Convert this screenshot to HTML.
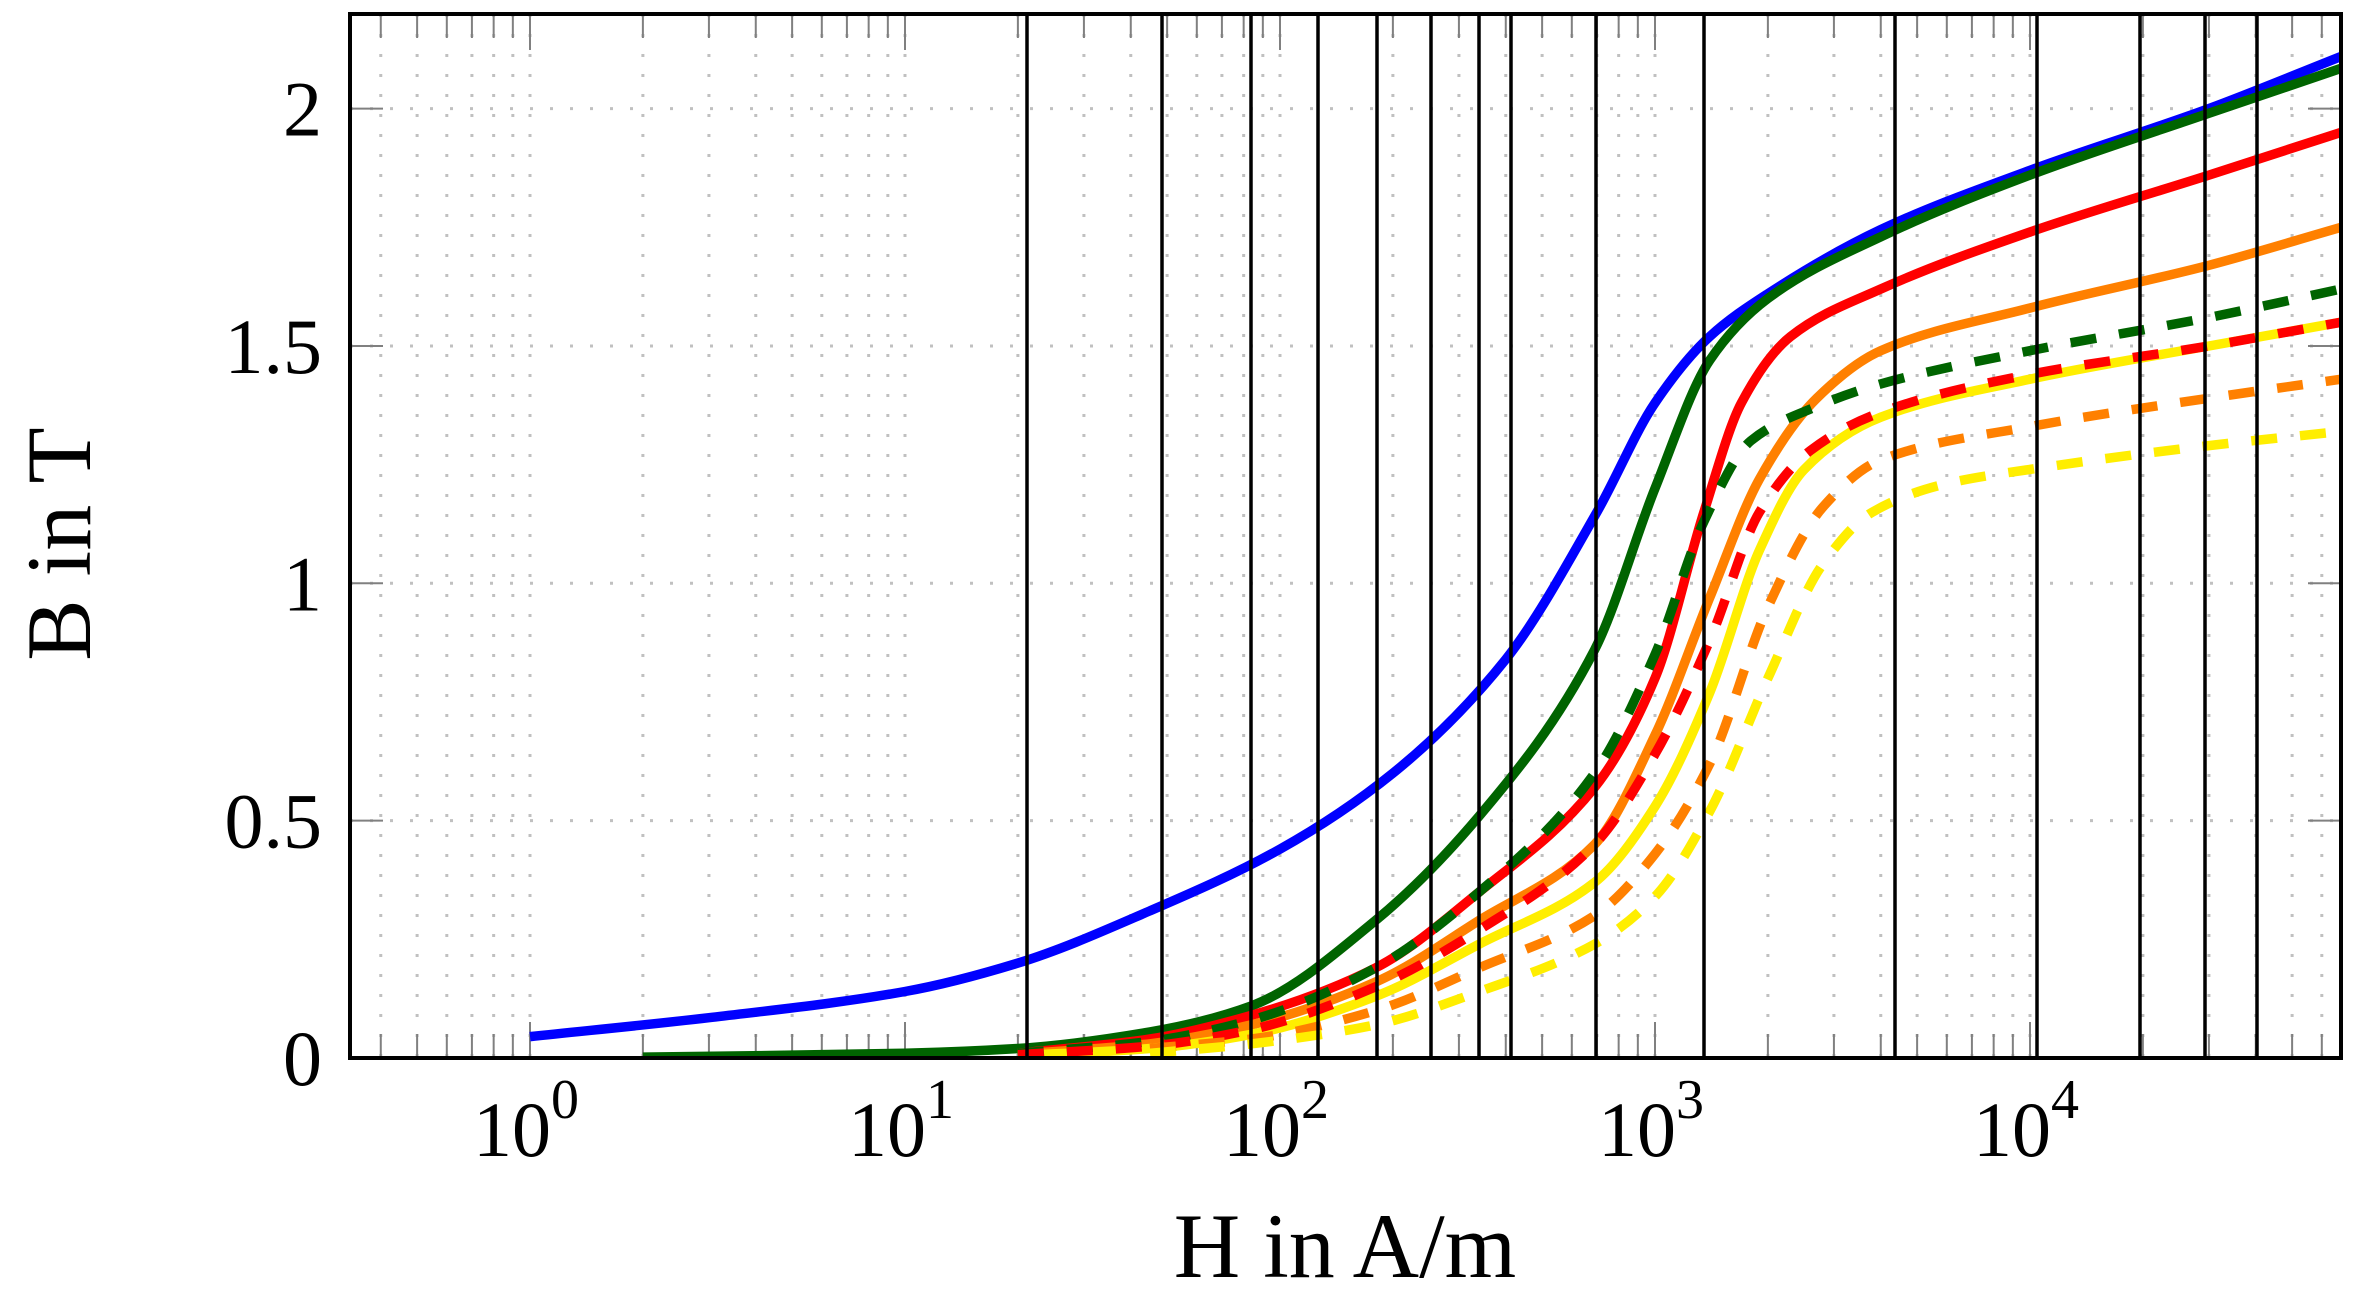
<!DOCTYPE html>
<html><head><meta charset="utf-8"><style>
html,body{margin:0;padding:0;background:#fff;}
svg{display:block;}
text{font-family:"Liberation Serif",serif;fill:#000;}
</style></head><body>
<svg id="s" width="2369" height="1311" viewBox="0 0 2369 1311" xmlns="http://www.w3.org/2000/svg">
<defs><clipPath id="c"><rect x="350" y="14" width="1991" height="1044"/></clipPath></defs>
<g id="grid"></g>
<g id="curves" clip-path="url(#c)"></g>
<g id="vl"></g>
<rect x="350" y="14" width="1991" height="1044" fill="none" stroke="#000" stroke-width="4"/>
<g id="lab" font-size="78"></g>
<text x="1345" y="1277" font-size="92" text-anchor="middle">H in A/m</text>
<text transform="translate(90,544) rotate(-90)" font-size="92" text-anchor="middle">B in T</text>
</svg>
<script>
const NS="http://www.w3.org/2000/svg";
const L=350,R=2341,T=14,B=1058;
const X=h=>530+375*Math.log10(h), Y=b=>1058-474.7*b;
function el(p,t,a,txt){const e=document.createElementNS(NS,t);for(const k in a)e.setAttribute(k,a[k]);if(txt!==undefined)e.textContent=txt;(typeof p=="string"?document.getElementById(p):p).appendChild(e);return e;}
for(let d=-1;d<=4;d++)for(let m=1;m<=9;m++){const x=X(m*Math.pow(10,d));if(x<L+2||x>R-2)continue;
 el("grid","line",{x1:x,y1:T,x2:x,y2:B,stroke:"#c0c0c0","stroke-width":3,"stroke-dasharray":"3 17"});
 const len=m==1?36:24;
 el("grid","line",{x1:x,y1:T,x2:x,y2:T+len,stroke:"#808080","stroke-width":2});
 el("grid","line",{x1:x,y1:B,x2:x,y2:B-len,stroke:"#808080","stroke-width":2});}
for(let b=0.5;b<=2;b+=0.5){const y=Y(b);
 el("grid","line",{x1:L,y1:y,x2:R,y2:y,stroke:"#c0c0c0","stroke-width":3,"stroke-dasharray":"3 17"});
 el("grid","line",{x1:L,y1:y,x2:L+33,y2:y,stroke:"#808080","stroke-width":2});
 el("grid","line",{x1:R,y1:y,x2:R-33,y2:y,stroke:"#808080","stroke-width":2});}
[["0",0],["0.5",0.5],["1",1],["1.5",1.5],["2",2]].forEach(([t,b])=>el("lab","text",{x:322,y:Y(b)+27,"text-anchor":"end"},t));
for(let d=0;d<=4;d++){const x=X(Math.pow(10,d));const t=el("lab","text",{x:x-4,y:1156,"text-anchor":"middle"},"10");
 el(t,"tspan",{dy:-38,"font-size":"56"},String(d));}
[1027,1162,1251,1318,1377,1431,1479,1511,1596,1704,1895,2037,2140,2205,2257].forEach(x=>el("vl","line",{x1:x,y1:T,x2:x,y2:B,stroke:"#000","stroke-width":3.5}));
// monotone cubic in pixel space
function path(pts){const p=pts.map(([h,b])=>[X(h),Y(b)]);const n=p.length;const dl=[],m=[];
 for(let i=0;i<n-1;i++)dl.push((p[i+1][1]-p[i][1])/(p[i+1][0]-p[i][0]));
 m[0]=dl[0];m[n-1]=dl[n-2];
 for(let i=1;i<n-1;i++){if(dl[i-1]*dl[i]<=0)m[i]=0;else{const h0=p[i][0]-p[i-1][0],h1=p[i+1][0]-p[i][0];const w1=2*h1+h0,w2=h1+2*h0;m[i]=(w1+w2)/(w1/dl[i-1]+w2/dl[i]);}}
 let d="M"+p[0][0].toFixed(1)+","+p[0][1].toFixed(1);
 for(let i=0;i<n-1;i++){const h=p[i+1][0]-p[i][0];
  d+=` C${(p[i][0]+h/3).toFixed(1)},${(p[i][1]+m[i]*h/3).toFixed(1)} ${(p[i+1][0]-h/3).toFixed(1)},${(p[i+1][1]-m[i+1]*h/3).toFixed(1)} ${p[i+1][0].toFixed(1)},${p[i+1][1].toFixed(1)}`;}
 return d;}
const S=[
["#0000ff",0,[[1,0.045],[3,0.085],[10,0.14],[20,0.2],[45,0.31],[100,0.44],[200,0.6],[400,0.84],[700,1.15],[1000,1.38],[1400,1.52],[2000,1.61],[4000,1.745],[10000,1.87],[30000,2.0],[67600,2.11]]],
["#006400",0,[[2,0.002],[10,0.01],[20,0.02],[45,0.055],[84,0.11],[180,0.29],[340,0.51],[690,0.86],[1000,1.2],[1400,1.47],[2000,1.6],[4000,1.73],[10000,1.86],[30000,1.99],[67600,2.085]]],
["#ff0000",0,[[20,0.01],[45,0.04],[84,0.09],[180,0.19],[340,0.35],[690,0.57],[1000,0.8],[1350,1.15],[1700,1.38],[2300,1.52],[4000,1.62],[10000,1.74],[30000,1.86],[67600,1.95]]],
["#ff8000",0,[[20,0.008],[45,0.03],[84,0.07],[180,0.16],[340,0.29],[690,0.45],[1000,0.68],[1400,0.97],[1900,1.22],[2700,1.39],[4000,1.49],[10000,1.58],[30000,1.67],[67600,1.75]]],
["#ffee00",0,[[20,0.005],[45,0.02],[84,0.05],[180,0.13],[340,0.24],[690,0.37],[1000,0.53],[1400,0.77],[1900,1.07],[2500,1.24],[4000,1.35],[10000,1.43],[30000,1.5],[67600,1.55]]],
["#006400",1,[[20,0.01],[45,0.035],[84,0.08],[180,0.19],[340,0.35],[690,0.6],[1000,0.85],[1350,1.13],[1800,1.3],[2650,1.37],[4000,1.42],[10000,1.49],[30000,1.56],[67600,1.62]]],
["#ff0000",1,[[20,0.007],[45,0.025],[84,0.06],[180,0.15],[340,0.27],[690,0.45],[1000,0.64],[1400,0.88],[1900,1.15],[2600,1.28],[4000,1.36],[10000,1.44],[30000,1.5],[67600,1.55]]],
["#ff8000",1,[[45,0.02],[84,0.04],[180,0.1],[340,0.19],[690,0.3],[1000,0.43],[1400,0.62],[2000,0.95],[2800,1.16],[4000,1.26],[10000,1.33],[30000,1.39],[67600,1.43]]],
["#ffee00",1,[[45,0.01],[84,0.03],[180,0.07],[340,0.14],[690,0.24],[1000,0.34],[1400,0.52],[2000,0.8],[2800,1.04],[3800,1.15],[6000,1.21],[10000,1.24],[30000,1.29],[67600,1.32]]]
];
S.forEach(([c,d,p])=>{const a={d:path(p),fill:"none",stroke:c,"stroke-width":9.5};if(d)a["stroke-dasharray"]="26 23";el("curves","path",a);});
</script>
</body></html>
